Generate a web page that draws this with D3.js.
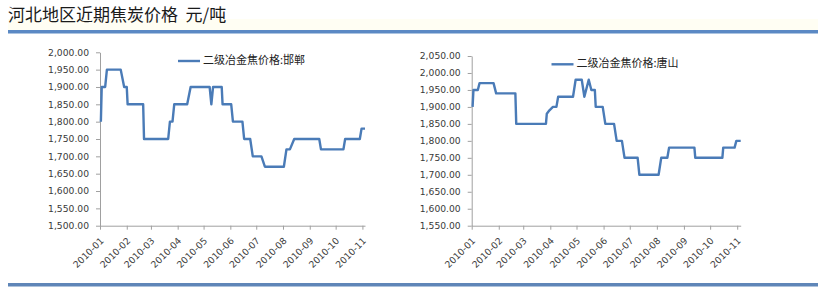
<!DOCTYPE html>
<html><head><meta charset="utf-8">
<script src="https://cdn.jsdelivr.net/npm/d3@7"></script>
<style>body{margin:0;background:#fff}svg{display:block}</style>
</head><body>
<svg id="c" width="829" height="301"></svg>
<script>
const titleText = "河北地区近期焦炭价格  元/吨";
const monthLabels = ["2010-01","2010-02","2010-03","2010-04","2010-05","2010-06","2010-07","2010-08","2010-09","2010-10","2010-11"];

const handanName = "二级冶金焦价格:邯郸";
const handanDates = ["2010-01-02","2010-01-03","2010-01-07","2010-01-09","2010-01-25","2010-01-29","2010-02-01","2010-02-02","2010-02-20","2010-02-21","2010-03-21","2010-03-23","2010-03-26","2010-03-28","2010-04-12","2010-04-16","2010-05-08","2010-05-10","2010-05-12","2010-05-22","2010-05-23","2010-06-02","2010-06-04","2010-06-15","2010-06-17","2010-06-24","2010-06-27","2010-07-07","2010-07-11","2010-08-02","2010-08-05","2010-08-09","2010-08-14","2010-09-12","2010-09-14","2010-10-10","2010-10-12","2010-10-29","2010-10-31","2010-11-04"];
const handanValues = [1800,1900,1900,1950,1950,1900,1900,1850,1850,1750,1750,1800,1800,1850,1850,1900,1900,1850,1900,1900,1850,1850,1800,1800,1750,1750,1700,1700,1670,1670,1720,1720,1750,1750,1720,1720,1750,1750,1780,1780];
const handanYTicks = [1500,1550,1600,1650,1700,1750,1800,1850,1900,1950,2000];

const tangshanName = "二级冶金焦价格:唐山";
const tangshanDates = ["2010-01-02","2010-01-03","2010-01-08","2010-01-10","2010-01-26","2010-01-29","2010-02-20","2010-02-21","2010-03-27","2010-03-28","2010-03-31","2010-04-04","2010-04-08","2010-04-10","2010-04-27","2010-04-30","2010-05-07","2010-05-10","2010-05-15","2010-05-18","2010-05-22","2010-05-23","2010-05-31","2010-06-03","2010-06-13","2010-06-16","2010-06-22","2010-06-25","2010-07-10","2010-07-12","2010-08-03","2010-08-06","2010-08-13","2010-08-15","2010-09-13","2010-09-14","2010-10-15","2010-10-16","2010-10-29","2010-10-31","2010-11-05"];
const tangshanValues = [1900,1950,1950,1970,1970,1940,1940,1850,1850,1880,1890,1900,1900,1930,1930,1980,1980,1930,1980,1950,1950,1900,1900,1850,1850,1800,1800,1750,1750,1700,1700,1750,1750,1780,1780,1750,1750,1780,1780,1800,1800];
const tangshanYTicks = [1550,1600,1650,1700,1750,1800,1850,1900,1950,2000,2050];

const parse = d3.utcParse("%Y-%m-%d");
const parseMonth = d3.utcParse("%Y-%m");
const svg = d3.select("#c");

const barColor = "#5B89C4";
const lineColor = "#4A7BB7";
const axisColor = "#A0A0A0";
const labelColor = "#3A3A3A";

svg.append("rect").attr("x",8).attr("y",19).attr("width",810).attr("height",11).attr("fill","#FFFEF3");
svg.append("text").attr("x",8).attr("y",21).attr("font-family","'Noto Sans CJK SC', sans-serif")
  .attr("font-size",17).attr("fill","#1a1a1a").style("white-space","pre").text(titleText);
svg.append("rect").attr("x",8).attr("y",30).attr("width",810).attr("height",3.5).attr("fill",barColor);
svg.append("rect").attr("x",8).attr("y",283).attr("width",810).attr("height",3.5).attr("fill","#5F86B8");

function drawChart(o) {
  const g = svg.append("g");
  const x = d3.scaleUtc().domain([parseMonth(monthLabels[0]), parse(o.dates[o.dates.length-1])]).range([o.x0, o.x1]);
  const y = d3.scaleLinear().domain([o.yTicks[0], o.yTicks[o.yTicks.length-1]]).range([o.yBot, o.yTop]);

  const ya = g.append("g").attr("transform",`translate(${o.x0},0)`)
    .call(d3.axisLeft(y).tickValues(o.yTicks).tickFormat(d3.format(",.2f")).tickSize(4).tickSizeOuter(0).tickPadding(7));
  ya.selectAll("path,line").attr("stroke",axisColor);
  ya.selectAll("text").attr("font-family","'DejaVu Sans', sans-serif").attr("font-size",9.2).attr("fill",labelColor);

  const xa = g.append("g").attr("transform",`translate(0,${o.yBot})`)
    .call(d3.axisBottom(x).tickValues(monthLabels.map(parseMonth)).tickFormat(d3.utcFormat("%Y-%m")).tickSize(4).tickSizeOuter(0));
  xa.selectAll("path,line").attr("stroke",axisColor);
  xa.selectAll("text").attr("font-family","'DejaVu Sans', sans-serif").attr("font-size",9.2).attr("fill",labelColor)
    .attr("text-anchor","end").attr("dy",null).attr("y",null)
    .attr("transform","translate(2,14) rotate(-45)").attr("dominant-baseline","middle");

  const pts = o.dates.map((d,i)=>[parse(d), o.values[i]]);
  g.append("path").datum(pts).attr("fill","none").attr("stroke",lineColor).attr("stroke-width",2.4)
    .attr("stroke-linejoin","round")
    .attr("d", d3.line().x(d=>x(d[0])).y(d=>y(d[1])));

  g.append("line").attr("x1",o.lx).attr("x2",o.lx+22).attr("y1",o.ly).attr("y2",o.ly)
    .attr("stroke",lineColor).attr("stroke-width",2.4);
  g.append("text").attr("x",o.lx+25).attr("y",o.ly).attr("dominant-baseline","middle")
    .attr("font-family","'Noto Sans CJK SC', sans-serif").attr("font-size",11).attr("fill","#222").text(o.name);
}

drawChart({dates:handanDates, values:handanValues, yTicks:handanYTicks, name:handanName,
  x0:100, x1:365, yTop:52.3, yBot:225.7, lx:178, ly:61});
drawChart({dates:tangshanDates, values:tangshanValues, yTicks:tangshanYTicks, name:tangshanName,
  x0:471.7, x1:740.7, yTop:56, yBot:225.7, lx:551.5, ly:64.3});
</script>
</body></html>
